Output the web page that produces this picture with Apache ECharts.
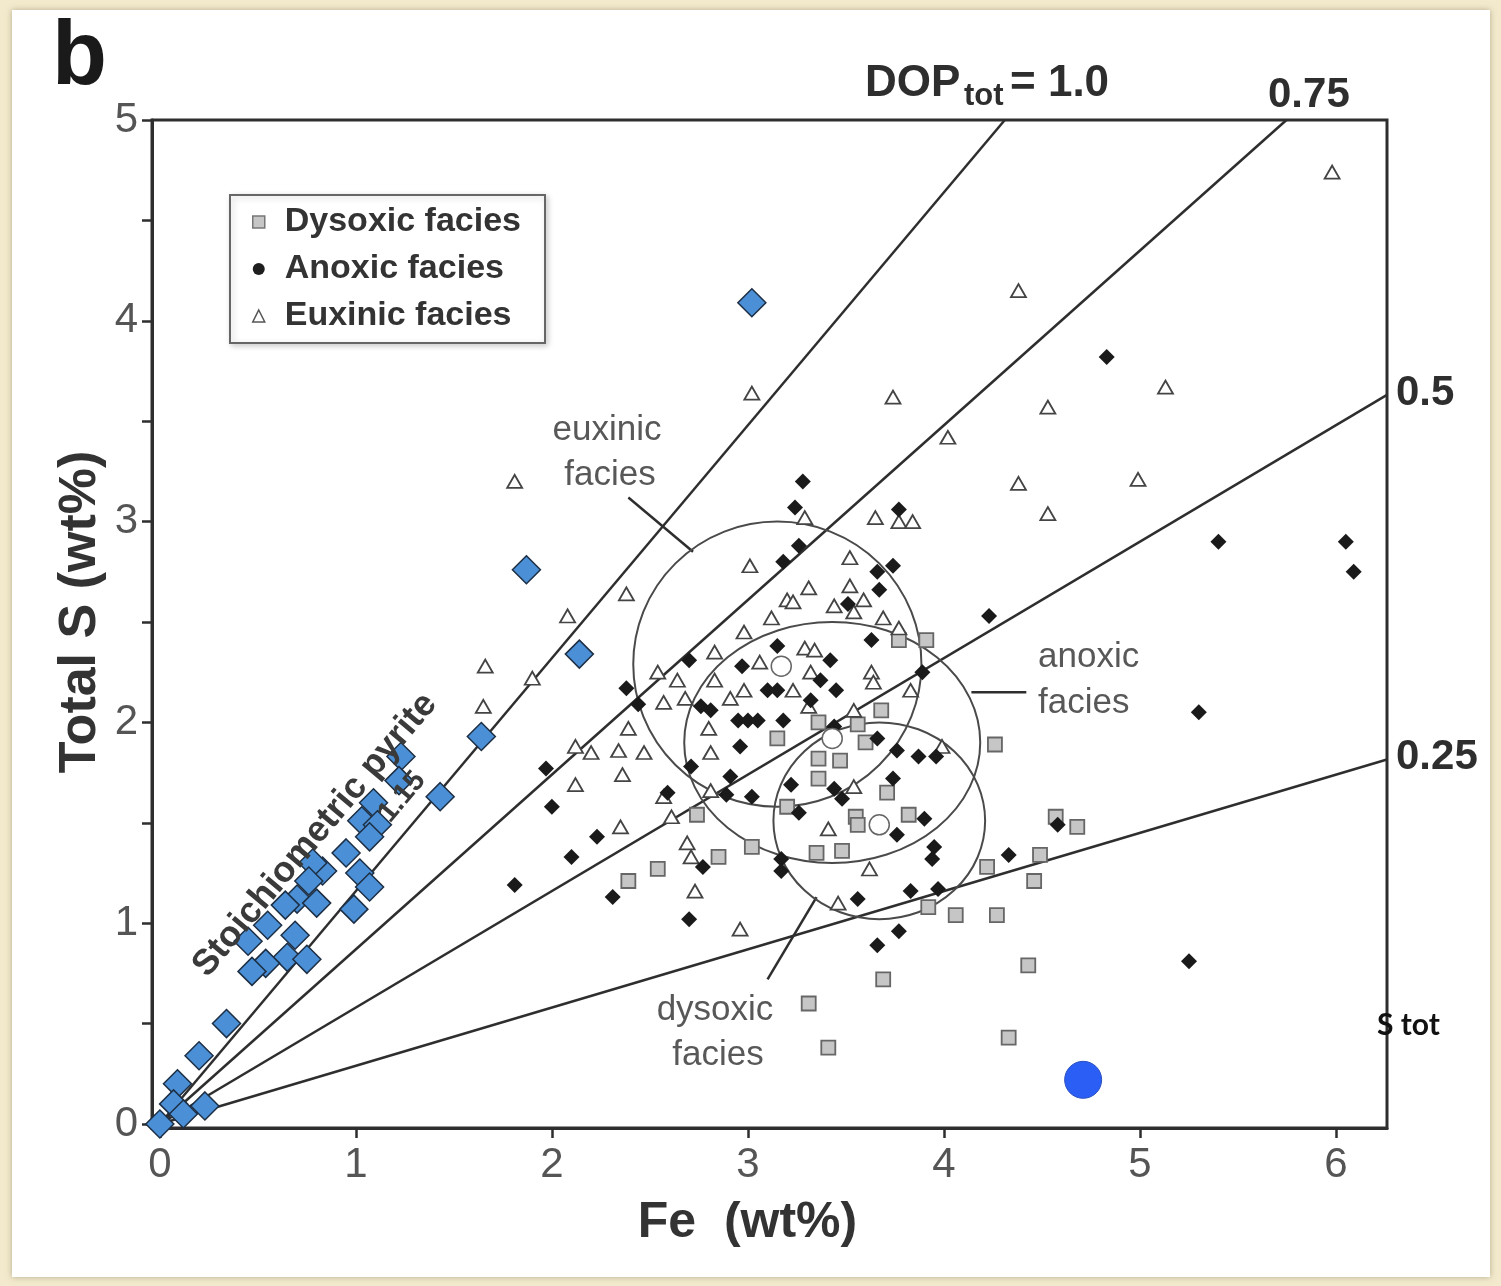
<!DOCTYPE html>
<html>
<head>
<meta charset="utf-8">
<script src="https://cdn.jsdelivr.net/npm/echarts@6/dist/echarts.min.js"></script>
<style>
html, body { margin: 0; padding: 0; background: #f3eacd; }
#sheet { position: absolute; left: 12px; top: 10px; width: 1478px; height: 1267px; background: #fff; box-shadow: 0 0 6px rgba(120, 110, 80, 0.5); }
#main { position: absolute; left: 0; top: 0; width: 1501px; height: 1286px; }
</style>
</head>
<body>
<div id="sheet"></div>
<div id="main"></div>
<script>
// Fe (wt%), Total S (wt%)
var dysoxic = [[3.91,2.41],[3.77,2.41],[3.68,2.06],[4.26,1.89],[3.71,1.65],[3.82,1.54],[3.55,1.53],[3.56,1.49],
    [3.35,1.35],[3.48,1.36],[3.36,2.00],[3.56,1.99],[3.60,1.90],[3.47,1.81],[3.36,1.82],[3.36,1.72],[3.20,1.58],
    [3.15,1.92],[2.85,1.33],[2.74,1.54],[3.02,1.38],[2.54,1.27],[2.39,1.21],[4.22,1.28],[3.92,1.08],[4.06,1.04],
    [4.27,1.04],[3.69,0.72],[3.31,0.60],[3.41,0.38],[4.33,0.43],[4.43,0.79],[4.46,1.21],[4.49,1.34],[4.57,1.53],[4.68,1.48]];
var anoxic = [[4.83,3.82],[3.28,3.20],[3.24,3.07],[3.26,2.88],[3.77,3.06],[5.40,2.90],[6.05,2.90],[6.09,2.75],
    [4.23,2.53],[5.30,2.05],[5.25,0.81],[1.81,1.19],[1.97,1.77],[2.00,1.58],[2.10,1.33],[2.23,1.43],[2.31,1.13],
    [2.70,1.02],[2.38,2.17],[2.44,2.09],[2.59,1.65],[2.71,1.78],[2.70,2.31],[3.66,0.89],[3.77,0.96],[3.56,1.12],
    [3.83,1.16],[3.97,1.17],[4.33,1.34],[4.58,1.49],[3.96,1.83],[3.87,1.83],[3.76,1.86],[3.66,1.92],[3.74,1.72],
    [3.90,1.52],[3.76,1.44],[3.95,1.38],[3.94,1.32],[3.89,2.25],[3.63,2.41],[3.66,2.75],[3.74,2.78],[3.67,2.66],
    [3.51,2.59],[3.42,2.31],[3.37,2.21],[3.45,2.16],[3.32,2.11],[3.44,1.98],[3.18,2.80],[3.15,2.38],[2.97,2.28],
    [2.95,2.01],[3.00,2.01],[3.05,2.01],[3.10,2.16],[3.15,2.16],[3.18,2.01],[2.76,2.08],[2.81,2.06],[2.96,1.88],
    [2.91,1.73],[2.89,1.64],[3.02,1.63],[2.77,1.28],[3.17,1.32],[3.17,1.26],[3.22,1.69],[3.26,1.55],[3.44,1.67],[3.48,1.62]];
var euxinic = [[5.98,4.74],[4.38,4.15],[5.13,3.67],[3.02,3.64],[3.74,3.62],[4.53,3.57],[4.02,3.42],[4.99,3.21],
    [4.38,3.19],[1.81,3.20],[4.53,3.04],[3.65,3.02],[3.77,3.00],[3.84,3.00],[3.29,3.02],[3.01,2.78],[2.38,2.64],
    [2.08,2.53],[1.66,2.28],[1.65,2.08],[1.90,2.22],[3.12,2.52],[2.98,2.45],[3.20,2.61],[2.83,2.35],[3.06,2.30],
    [2.54,2.25],[2.64,2.21],[2.83,2.21],[2.98,2.16],[2.91,2.12],[2.57,2.10],[2.68,2.12],[3.52,2.82],[3.52,2.68],
    [3.31,2.67],[3.23,2.60],[3.44,2.58],[3.54,2.55],[3.59,2.61],[3.69,2.52],[3.77,2.47],[3.83,2.16],[3.63,2.25],
    [3.64,2.20],[3.29,2.37],[3.34,2.36],[3.32,2.25],[3.23,2.16],[3.31,2.08],[3.54,2.06],[2.39,1.97],[2.20,1.85],
    [2.34,1.86],[2.47,1.85],[2.80,1.97],[2.81,1.85],[2.36,1.74],[2.12,1.69],[2.12,1.88],[2.81,1.66],[2.57,1.63],
    [2.61,1.53],[2.35,1.48],[2.69,1.40],[2.71,1.33],[2.73,1.16],[2.96,0.97],[3.54,1.68],[3.99,1.88],[3.41,1.47],
    [3.62,1.27],[3.46,1.10]];
var samples = [[3.02,4.09],[1.87,2.76],[2.14,2.34],[1.64,1.93],[1.43,1.63],[1.23,1.83],[1.22,1.71],[1.09,1.60],
    [1.03,1.51],[1.11,1.49],[1.07,1.43],[0.95,1.35],[1.02,1.25],[1.07,1.18],[0.83,1.26],[0.78,1.30],[0.76,1.21],
    [0.70,1.12],[0.80,1.10],[0.64,1.09],[0.99,1.07],[0.55,0.99],[0.69,0.94],[0.45,0.91],[0.65,0.83],[0.75,0.82],
    [0.54,0.80],[0.47,0.76],[0.34,0.50],[0.20,0.34],[0.09,0.20],[0.07,0.10],[0.23,0.09],[0.12,0.05],[0.00,0.00]];
var sTot = [[4.71,0.22]];
// facies means and their outlines: [Fe, S, half-width in Fe, half-height in S]
var faciesMeans = [[3.17,2.28],[3.43,1.92],[3.67,1.49]];
var faciesOutlines = [[3.15,2.29,0.735,0.71],[3.43,1.90,0.755,0.60],[3.67,1.51,0.54,0.49]];
var pointerLines = [[[2.39,3.12],[2.72,2.85]], [[4.14,2.15],[4.42,2.15]], [[3.10,0.72],[3.35,1.13]]];
var dopLevels = [1.0, 0.75, 0.5, 0.25];
var pyriteRatio = 1.16;
var xTicks = [0,1,2,3,4,5,6];
var yTicks = [0,1,2,3,4,5];
var yMinorTicks = [0,0.5,1,1.5,2,2.5,3,3.5,4,4.5,5];

var FONT = '"Liberation Sans", Arial, sans-serif';
var xMin = -0.04, xMax = 6.26, yMin = -0.02, yMax = 5;
var ink = '#2e2e2e';

var chart = echarts.init(document.getElementById('main'));

var series = [];
dopLevels.forEach(function (d) {
    var k = d * pyriteRatio;
    var xEnd = Math.min(xMax, yMax / k);
    series.push({
        type: 'line', data: [[0, 0], [xEnd, k * xEnd]], symbol: 'none', silent: true, z: 1,
        lineStyle: {color: ink, width: 2.5}
    });
});
pointerLines.forEach(function (seg) {
    series.push({
        type: 'line', data: seg, symbol: 'none', silent: true, z: 1,
        lineStyle: {color: ink, width: 2.5}
    });
});
series.push({
    type: 'custom', data: faciesOutlines, z: 2, silent: true,
    encode: {x: 0, y: 1},
    renderItem: function (params, api) {
        var c = api.coord([api.value(0), api.value(1)]);
        var s = api.size([api.value(2), api.value(3)]);
        var rx = s[0], ry = s[1];
        var d = 'M' + (c[0] - rx) + ',' + c[1] +
            ' A' + rx + ',' + ry + ' 0 1,0 ' + (c[0] + rx) + ',' + c[1] +
            ' A' + rx + ',' + ry + ' 0 1,0 ' + (c[0] - rx) + ',' + c[1] + ' Z';
        return {type: 'path', shape: {pathData: d},
            style: {fill: 'none', stroke: '#4a4a4a', lineWidth: 2}};
    }
});
series.push({
    name: 'Dysoxic facies', type: 'scatter', data: dysoxic, symbol: 'rect', symbolSize: 14, z: 3,
    itemStyle: {color: '#c6c6c6', borderColor: '#666', borderWidth: 1.8, opacity: 1}
});
series.push({
    name: 'Euxinic facies', type: 'scatter', data: euxinic, symbol: 'triangle', symbolSize: [15, 13], z: 3,
    itemStyle: {color: '#ffffff', borderColor: '#444', borderWidth: 1.8, opacity: 1}
});
series.push({
    name: 'Anoxic facies', type: 'scatter', data: anoxic, symbol: 'diamond', symbolSize: 16, z: 4,
    itemStyle: {color: '#1a1a1a', opacity: 1}
});
series.push({
    type: 'scatter', data: faciesMeans, symbol: 'circle', symbolSize: 20, z: 4,
    itemStyle: {color: '#ffffff', borderColor: '#666', borderWidth: 1.5, opacity: 1}
});
series.push({
    type: 'scatter', data: samples, symbol: 'diamond', symbolSize: 28, z: 5,
    itemStyle: {color: '#4b90d6', borderColor: '#1d2f45', borderWidth: 1.5, opacity: 1}
});
series.push({
    type: 'scatter', data: sTot, symbol: 'circle', symbolSize: 37, z: 5,
    itemStyle: {color: '#2b5ef4', borderColor: '#2a4fc0', borderWidth: 1, opacity: 1}
});

function txt(x, y, s, size, opts) {
    opts = opts || {};
    return {
        type: 'text', x: x, y: y, rotation: opts.rotation || 0, z: opts.z == null ? 10 : opts.z,
        style: {
            text: s, fill: opts.color || ink,
            font: (opts.weight || 'normal') + ' ' + size + 'px ' + (opts.family || FONT),
            textAlign: opts.align || 'left', textVerticalAlign: opts.valign || 'middle'
        }
    };
}

var gray = '#585858';
var rot = Math.atan(pyriteRatio * 201 / 196);

chart.setOption({
    animation: false,
    grid: {left: 152, right: 114, top: 120, bottom: 158, show: true, borderColor: ink, borderWidth: 3, backgroundColor: 'transparent'},
    legend: {
        orient: 'vertical', left: 230, top: 195, selectedMode: false,
        padding: [10, 24, 10, 22], itemGap: 13, itemWidth: 12, itemHeight: 12,
        backgroundColor: '#fff', borderColor: '#666', borderWidth: 2, borderRadius: 0,
        shadowBlur: 6, shadowColor: 'rgba(0,0,0,0.2)', shadowOffsetX: 2, shadowOffsetY: 2,
        textStyle: {fontFamily: FONT, fontSize: 34, fontWeight: 'bold', color: '#333', padding: [0, 0, 0, 15]},
        data: [
            {name: 'Dysoxic facies', icon: 'rect', itemStyle: {color: '#c6c6c6', borderColor: '#777', borderWidth: 1.5}},
            {name: 'Anoxic facies', icon: 'circle', itemStyle: {color: '#1e1e1e'}},
            {name: 'Euxinic facies', icon: 'triangle', itemStyle: {color: '#fff', borderColor: '#555', borderWidth: 1.5}}
        ]
    },
    xAxis: {
        type: 'value', min: xMin, max: xMax,
        name: 'Fe  (wt%)', nameLocation: 'middle', nameGap: 70, nameMoveOverlap: false,
        nameTextStyle: {fontFamily: FONT, fontSize: 50, fontWeight: 'bold', color: '#333', padding: [0, 44, 0, 0]},
        axisLine: {onZero: false, lineStyle: {color: ink, width: 3}},
        axisTick: {customValues: xTicks, length: 10, lineStyle: {color: ink, width: 2.5}},
        axisLabel: {customValues: xTicks, margin: 16, fontFamily: FONT, fontSize: 42, color: '#555'},
        splitLine: {show: false}
    },
    yAxis: {
        type: 'value', min: yMin, max: yMax,
        name: 'Total S (wt%)', nameLocation: 'middle', nameGap: 45, nameMoveOverlap: false,
        nameTextStyle: {fontFamily: FONT, fontSize: 52, fontWeight: 'bold', color: '#333', padding: [0, 0, 0, 24]},
        axisLine: {onZero: false, lineStyle: {color: ink, width: 3}},
        axisTick: {customValues: yMinorTicks, length: 10, lineStyle: {color: ink, width: 2.5}},
        axisLabel: {customValues: yTicks, margin: 14, fontFamily: FONT, fontSize: 42, color: '#555'},
        splitLine: {show: false}
    },
    graphic: [
        txt(52, 104, 'b', 90, {weight: 'bold', valign: 'bottom', color: '#1a1a1a'}),
        txt(865, 84, 'DOP', 44, {weight: 'bold'}),
        txt(964, 96, 'tot', 31, {weight: 'bold'}),
        txt(1010, 84, '= 1.0', 44, {weight: 'bold'}),
        txt(1268, 95, '0.75', 42, {weight: 'bold'}),
        txt(1396, 393, '0.5', 42, {weight: 'bold'}),
        txt(1396, 757, '0.25', 42, {weight: 'bold'}),
        txt(1377, 1025, 'S tot', 30, {weight: 'bold', color: '#111', family: 'Lato, "Open Sans", sans-serif'}),
        txt(607, 430, 'euxinic', 35, {align: 'center', color: gray}),
        txt(610, 475, 'facies', 35, {align: 'center', color: gray}),
        txt(1038, 657, 'anoxic', 35, {color: gray}),
        txt(1038, 703, 'facies', 35, {color: gray}),
        txt(715, 1010, 'dysoxic', 35, {align: 'center', color: gray}),
        txt(718, 1055, 'facies', 35, {align: 'center', color: gray}),
        txt(315, 835, 'Stoichiometric pyrite', 36, {weight: 'bold', align: 'center', color: '#3a3a3a', rotation: rot}),
        txt(402, 797, '1.15', 29, {weight: 'bold', align: 'center', color: '#3a3a3a', rotation: rot})
    ],
    series: series
});
</script>
</body>
</html>
